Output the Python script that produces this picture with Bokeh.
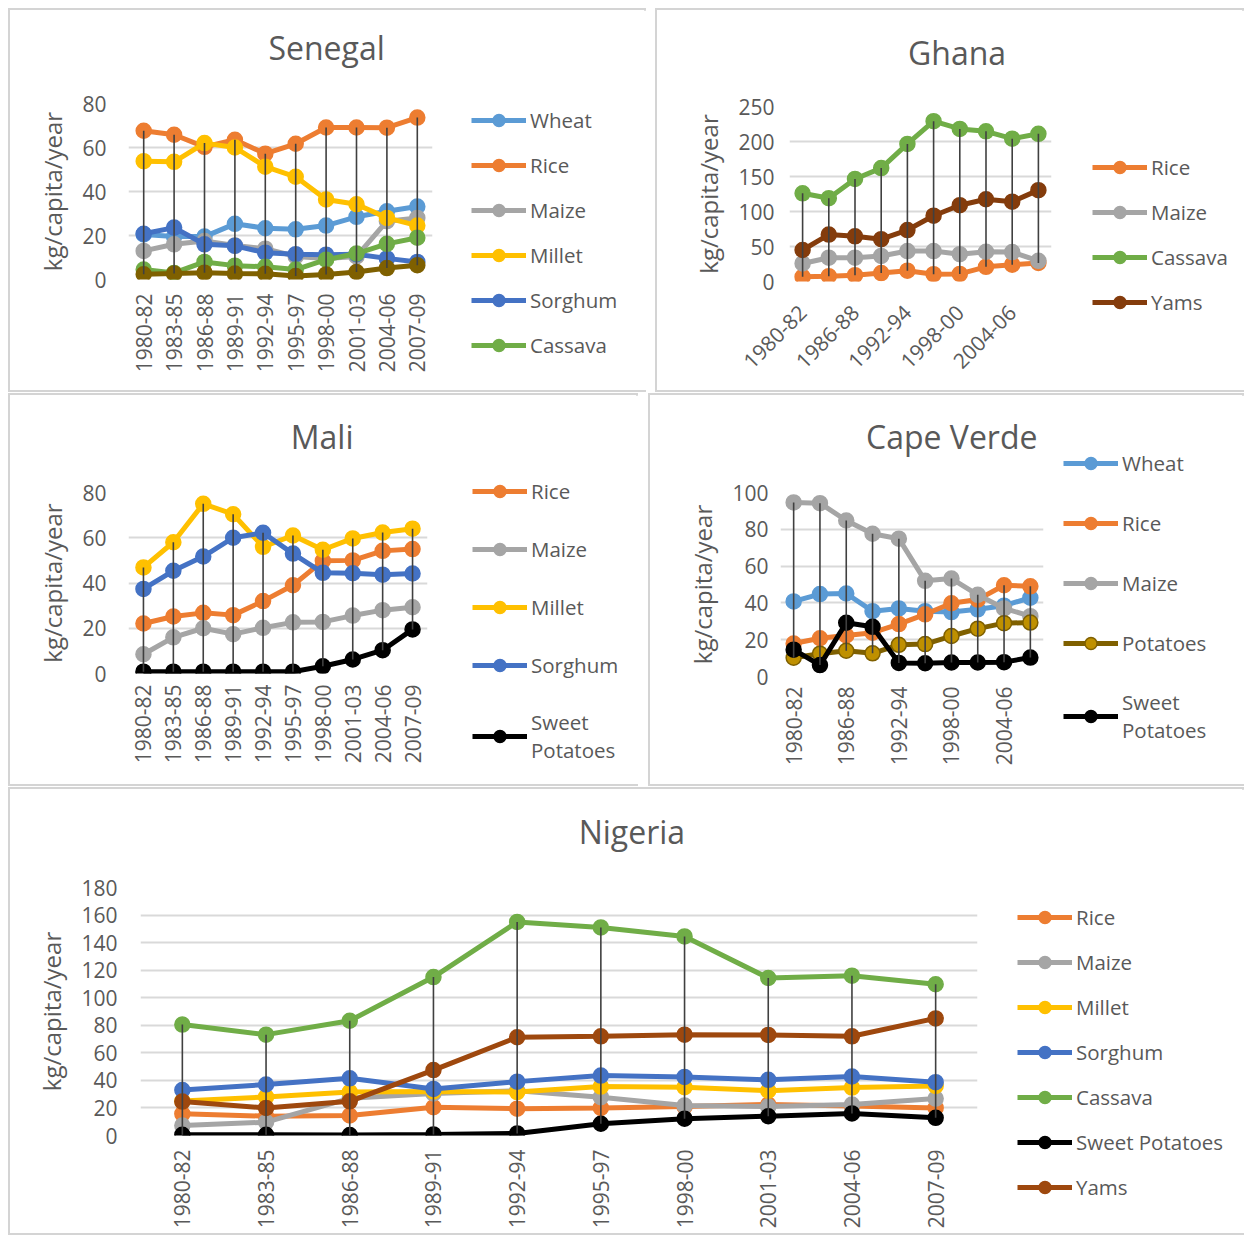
import math
import numpy as np
from bokeh.plotting import figure
from bokeh.models import (Range1d, FixedTicker, Legend, LegendItem,
                          LinearAxis)
from bokeh.layouts import row, column
from bokeh.embed import file_html
from bokeh.resources import INLINE

# ---------------- data ----------------
periods = ["1980-82", "1983-85", "1986-88", "1989-91", "1992-94",
           "1995-97", "1998-00", "2001-03", "2004-06", "2007-09"]

# Senegal
sen_wheat = [20.5, 19.5, 19.5, 25.3, 23.3, 22.8, 24.5, 28.5, 31.0, 33.2]
sen_rice = [67.6, 65.8, 60.3, 63.5, 57.2, 61.7, 69.1, 69.1, 69.0, 73.6]
sen_maize = [13.0, 16.0, 17.5, 15.5, 14.0, 10.5, 9.5, 10.5, 26.5, 28.0]
sen_millet = [53.8, 53.5, 62.0, 60.0, 51.3, 46.7, 36.4, 34.2, 28.0, 24.5]
sen_sorghum = [20.8, 23.6, 16.0, 15.3, 12.2, 11.5, 11.3, 11.5, 9.6, 8.0]
sen_cassava = [4.5, 3.0, 8.0, 6.3, 5.8, 4.5, 9.0, 11.8, 16.2, 19.0]
sen_other = [2.4, 2.7, 3.1, 2.7, 2.6, 1.6, 2.3, 3.4, 5.2, 6.5]

# Ghana
gh_rice = [6.7, 7.6, 9.0, 12.0, 15.5, 10.5, 10.8, 21.0, 24.0, 26.5]
gh_maize = [25.8, 34.0, 34.0, 36.5, 43.5, 43.5, 39.0, 42.5, 42.0, 29.5]
gh_cassava = [126.0, 119.0, 146.5, 162.0, 196.5, 229.0, 218.0, 214.5, 204.0, 211.0]
gh_yams = [45.0, 67.0, 64.5, 60.5, 73.5, 94.0, 109.0, 117.5, 114.0, 130.5]

# Mali
ml_rice = [22.1, 25.2, 26.8, 25.8, 32.0, 39.0, 49.8, 50.0, 54.2, 55.0]
ml_maize = [8.5, 16.0, 20.0, 17.4, 20.2, 22.6, 22.8, 25.6, 28.0, 29.3]
ml_millet = [46.9, 58.0, 75.0, 70.4, 56.0, 61.0, 54.7, 59.7, 62.3, 64.0]
ml_sorghum = [37.4, 45.4, 51.7, 60.0, 62.2, 53.0, 44.5, 44.3, 43.7, 44.2]
ml_sweet = [0.8, 0.8, 0.8, 0.8, 0.8, 0.8, 3.2, 6.2, 10.3, 19.5]

# Cape Verde
cv_wheat = [40.8, 44.8, 45.1, 35.5, 37.0, 35.5, 35.0, 36.5, 38.5, 42.8]
cv_rice = [17.9, 20.8, 22.3, 23.8, 28.5, 33.8, 39.8, 41.8, 49.6, 49.0]
cv_maize = [94.6, 94.2, 84.8, 77.6, 74.9, 52.0, 53.2, 44.4, 37.0, 32.8]
cv_potatoes = [10.2, 12.4, 14.0, 12.6, 17.2, 17.6, 22.0, 26.0, 29.0, 29.3]
cv_sweet = [14.6, 6.2, 29.2, 27.0, 7.4, 7.2, 7.6, 7.6, 7.8, 10.3]

# Nigeria
ng_rice = [15.7, 14.0, 14.5, 20.5, 19.5, 20.0, 21.0, 22.5, 21.5, 20.0]
ng_maize = [7.2, 9.7, 27.0, 30.5, 32.5, 27.8, 21.7, 21.0, 22.5, 26.8]
ng_millet = [25.0, 28.0, 31.5, 32.0, 31.5, 35.5, 35.0, 32.5, 34.8, 36.0]
ng_sorghum = [33.0, 37.0, 41.5, 33.8, 39.1, 43.5, 42.5, 40.4, 42.8, 38.7]
ng_cassava = [80.5, 73.2, 83.3, 115.0, 155.0, 151.0, 144.5, 114.3, 116.0, 109.8]
ng_sweet = [0.5, 0.5, 0.3, 0.8, 1.5, 8.5, 12.2, 14.0, 16.0, 12.8]
ng_yams = [24.6, 20.0, 24.8, 47.5, 71.3, 72.0, 73.2, 73.0, 72.0, 85.0]

# ---------------- styles ----------------
FONT = "Open Sans"
TXT = "#595959"
GRID = "#D9D9D9"
HILO = "#404040"
BORDER = 2
BCOL = "#D4D4D4"
C_WHEAT = "#5B9BD5"
C_RICE = "#ED7D31"
C_MAIZE = "#A5A5A5"
C_MILLET = "#FFC000"
C_SORGHUM = "#4472C4"
C_CASSAVA = "#70AD47"
C_SWEET = "#000000"
C_OLIVE = "#7F6000"
C_POT_FILL = "#BF9000"
C_YAMS_GH = "#843C0C"
C_YAMS_NG = "#9E480E"

ITEM_H = 30
LINE_H = 28
TITLE_H = 40
TITLE_STANDOFF = 4


def bstyle(*sides):
    return {f"border-{s}": f"{BORDER}px solid {BCOL}" for s in sides}


def panel(title, series, ymax, ystep, outer, split_x, frame, title_left,
          title_center_y, label_step, label_angle, ytick_standoff,
          xtick_standoff, legend_left, legend_top, legend_step, extra_lines=0):
    x0, y0, x1, y1 = outer
    fl, ft, fr, fb = frame
    H = y1 - y0
    Wp = split_x - x0
    cx0, cy0 = x0 + BORDER, y0 + BORDER
    xs = list(range(len(periods)))

    p = figure(width=Wp, height=H, output_backend="svg", toolbar_location=None,
               x_range=Range1d(-0.5, len(periods) - 0.5),
               y_range=Range1d(0, ymax), title=title,
               min_border_left=round(fl - cx0), min_border_top=round(ft - cy0),
               min_border_right=round(cx0 + Wp - fr),
               min_border_bottom=round(cy0 + H - fb),
               styles=bstyle("left", "top", "bottom"))
    p.outline_line_color = None
    p.background_fill_color = "white"
    p.border_fill_color = "white"

    # axes
    xax = p.below[0]
    yax = p.left[0]
    for ax in (xax, yax):
        ax.axis_line_color = None
        ax.major_tick_line_color = None
        ax.minor_tick_line_color = None
        ax.major_label_text_font = FONT
        ax.major_label_text_font_size = "21px"
        ax.major_label_text_color = TXT
    xax.ticker = FixedTicker(ticks=xs[::label_step])
    xax.major_label_overrides = {i: periods[i] for i in xs}
    xax.major_label_orientation = label_angle
    xax.major_label_standoff = xtick_standoff
    yax.ticker = FixedTicker(ticks=list(range(0, ymax + 1, ystep)))
    yax.major_label_standoff = ytick_standoff
    yax.axis_label = "kg/capita/year"
    yax.axis_label_text_font = FONT
    yax.axis_label_text_font_size = "24px"
    yax.axis_label_text_font_style = "normal"
    yax.axis_label_text_color = TXT
    yax.axis_label_standoff = 10

    p.xgrid.visible = False
    p.ygrid.grid_line_color = GRID
    p.ygrid.grid_line_width = 2

    # title, lifted off the frame by a blank axis above (white tick, no label)
    gap = ft - (title_center_y + TITLE_H / 2) - TITLE_STANDOFF / 2
    p.title.align = "left"
    p.title.offset = title_left - fl
    p.title.standoff = TITLE_STANDOFF
    p.title.text_font = FONT
    p.title.text_font_size = "32px"
    p.title.text_font_style = "normal"
    p.title.text_color = TXT
    lift = LinearAxis(ticker=FixedTicker(ticks=[xs[0]]),
                      major_tick_out=round(gap), major_tick_in=0,
                      minor_tick_out=0, minor_tick_in=0,
                      major_tick_line_color="white", major_tick_line_width=1,
                      minor_tick_line_color=None, axis_line_color=None,
                      major_label_standoff=0,
                      major_label_overrides={xs[0]: ""},
                      major_label_text_font_size="0px")
    p.add_layout(lift, "above")

    # legend figure (its frame gets aligned with the plot frame by the row)
    Wl = x1 - split_x
    lg = figure(width=Wl, height=H, output_backend="svg", toolbar_location=None,
                x_range=Range1d(0, 1), y_range=Range1d(0, 1), min_border=0,
                x_axis_location=None, y_axis_location=None,
                styles=bstyle("top", "right", "bottom"))
    lg.outline_line_color = None
    lg.xgrid.visible = False
    lg.ygrid.visible = False
    lg.background_fill_color = "white"
    lg.border_fill_color = "white"

    items = []
    for name, vals, lc, fc, in_legend in series:
        p.line(xs, vals, line_color=lc, line_width=5)
        p.scatter(xs, vals, size=15, fill_color=fc, line_color=lc,
                  line_width=1.5)
        if in_legend:
            # hidden proxies that carry the same style for the legend
            pl = lg.line(xs, vals, line_color=lc, line_width=5, visible=False)
            ps = lg.scatter(xs, vals, size=15, fill_color=fc, line_color=lc,
                            line_width=1.5, visible=False)
            items.append(LegendItem(label=name, renderers=[pl, ps]))

    allv = np.array([s[1] for s in series])
    p.segment(x0=xs, y0=allv.min(axis=0), x1=xs, y1=allv.max(axis=0),
              line_color=HILO, line_width=1.6)

    n = len(items)
    lh = n * ITEM_H + (n - 1) * (legend_step - ITEM_H) + extra_lines * LINE_H
    vx = legend_left - split_x
    vy = round(fb) - (legend_top + lh)
    leg = Legend(items=items, location=(vx, vy), orientation="vertical",
                 glyph_width=55, glyph_height=ITEM_H, label_height=ITEM_H,
                 spacing=legend_step - ITEM_H, padding=0, margin=0,
                 label_standoff=4, border_line_color=None,
                 background_fill_alpha=0, inactive_fill_alpha=0,
                 label_text_font=FONT, label_text_font_size="20.5px",
                 label_text_color=TXT)
    lg.add_layout(leg, "left")
    return row(p, lg, spacing=0)


sen = panel("Senegal",
            [("Wheat", sen_wheat, C_WHEAT, C_WHEAT, True),
             ("Rice", sen_rice, C_RICE, C_RICE, True),
             ("Maize", sen_maize, C_MAIZE, C_MAIZE, True),
             ("Millet", sen_millet, C_MILLET, C_MILLET, True),
             ("Sorghum", sen_sorghum, C_SORGHUM, C_SORGHUM, True),
             ("Cassava", sen_cassava, C_CASSAVA, C_CASSAVA, True),
             ("Other", sen_other, C_OLIVE, C_OLIVE, False)],
            80, 20, (8, 8, 646, 392), 460, (128.1, 102.7, 431.9, 279.3),
            268, 48, 1, math.pi / 2, 16, 8, 471, 105, 45)

gha = panel("Ghana",
            [("Rice", gh_rice, C_RICE, C_RICE, True),
             ("Maize", gh_maize, C_MAIZE, C_MAIZE, True),
             ("Cassava", gh_cassava, C_CASSAVA, C_CASSAVA, True),
             ("Yams", gh_yams, C_YAMS_GH, C_YAMS_GH, True)],
            250, 50, (655, 8, 1244, 392), 1065, (788.5, 106.0, 1051.5, 280.7),
            907, 53, 2, math.pi / 4, 9, 21, 1092, 152, 45)

mali = panel("Mali",
             [("Rice", ml_rice, C_RICE, C_RICE, True),
              ("Maize", ml_maize, C_MAIZE, C_MAIZE, True),
              ("Millet", ml_millet, C_MILLET, C_MILLET, True),
              ("Sorghum", ml_sorghum, C_SORGHUM, C_SORGHUM, True),
              ("Sweet\nPotatoes", ml_sweet, C_SWEET, C_SWEET, True)],
             80, 20, (8, 393, 638, 786), 460, (127.75, 491.7, 426.65, 672.7),
             290, 437, 1, math.pi / 2, 16, 5, 472, 474, 58, extra_lines=1)

cv = panel("Cape Verde",
           [("Wheat", cv_wheat, C_WHEAT, C_WHEAT, True),
            ("Rice", cv_rice, C_RICE, C_RICE, True),
            ("Maize", cv_maize, C_MAIZE, C_MAIZE, True),
            ("Potatoes", cv_potatoes, C_OLIVE, C_POT_FILL, True),
            ("Sweet\nPotatoes", cv_sweet, C_SWEET, C_SWEET, True)],
           100, 20, (648, 393, 1244, 786), 1053, (779.5, 491.7, 1043.2, 675.7),
           865, 437, 2, math.pi / 2, 6, 4, 1063, 446, 60, extra_lines=1)

nig = panel("Nigeria",
            [("Rice", ng_rice, C_RICE, C_RICE, True),
             ("Maize", ng_maize, C_MAIZE, C_MAIZE, True),
             ("Millet", ng_millet, C_MILLET, C_MILLET, True),
             ("Sorghum", ng_sorghum, C_SORGHUM, C_SORGHUM, True),
             ("Cassava", ng_cassava, C_CASSAVA, C_CASSAVA, True),
             ("Sweet Potatoes", ng_sweet, C_SWEET, C_SWEET, True),
             ("Yams", ng_yams, C_YAMS_NG, C_YAMS_NG, True)],
            180, 20, (8, 787, 1244, 1235), 1000, (139.85, 886.7, 976.85, 1135.0),
            578, 832, 1, math.pi / 2, 17, 8, 1017, 902, 45)

layout = column(row(sen, gha, spacing=9), row(mali, cv, spacing=10), nig,
                spacing=1, styles={"margin-left": "8px", "margin-top": "8px"})

open("out.html", "w").write(file_html(layout, INLINE))
